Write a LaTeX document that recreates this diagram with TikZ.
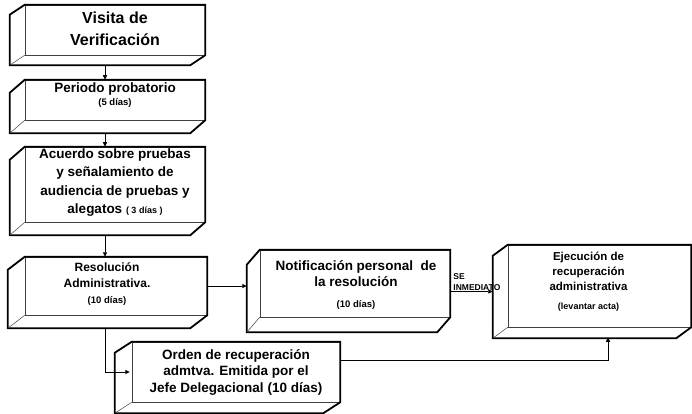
\documentclass[tikz,border=0pt]{standalone}
\usepackage{fontspec}
\setmainfont{Liberation Sans}
\usetikzlibrary{calc,arrows.meta}
\newcommand\mkcube[3]{%
  \draw[shell] (#1.north west) -- (#1.north east) -- (#1.south east)
    -- ($(#1.south east)+(-#2,#3)$) -- ($(#1.south west)+(-#2,#3)$)
    -- ($(#1.north west)+(-#2,#3)$) -- cycle;
  \draw[edge] (#1.south west) -- ($(#1.south west)+(-#2,#3)$);
  \coordinate (#1-ob) at ($(#1.south)+(0,#3)$);
  \coordinate (#1-ol) at ($(#1.west)+(-#2,0)$);
}
\begin{document}
\begin{tikzpicture}[x=1pt,y=-1pt,
  face/.style={draw=black!75, line width=0.5pt, inner sep=0pt},
  shell/.style={draw=black, line width=1.8pt, line join=miter},
  edge/.style={draw=black!75, line width=0.5pt},
  txt/.style={align=center, inner sep=0pt},
  arr/.style={draw=black, line width=0.9pt, -{Triangle[length=4.5pt,width=4pt]}},
  lbl/.style={font=\bfseries\fontsize{8.5}{9}\selectfont, inner sep=0pt, anchor=west}]
\useasboundingbox (0,0) rectangle (692,414);

% front faces
\node[face, minimum width=180pt, minimum height=50pt] (visita) at (115,30) {};
\node[face, minimum width=180pt, minimum height=40pt] (periodo) at (115,100) {};
\node[face, minimum width=180pt, minimum height=75pt] (acuerdo) at (115,184.5) {};
\node[face, minimum width=182pt, minimum height=58pt] (resol) at (116,286) {};
\node[face, minimum width=190pt, minimum height=67pt] (notif) at (355,283.5) {};
\node[face, minimum width=183pt, minimum height=82pt] (ejec) at (599.5,286) {};
\node[face, minimum width=208pt, minimum height=60pt] (orden) at (236,372) {};

% 3-D shells
\mkcube{visita}{15}{10}
\mkcube{periodo}{15}{13}
\mkcube{acuerdo}{15}{13}
\mkcube{resol}{17}{13}
\mkcube{notif}{13}{15}
\mkcube{ejec}{15}{11}
\mkcube{orden}{17}{11}

% texts
\node[txt, font=\bfseries\fontsize{16}{22}\selectfont] (visita-t) at ($(visita.center)+(0,-1)$)
  {Visita de\\Verificación};
\node[txt, font=\bfseries\fontsize{13.5}{13}\selectfont] (periodo-t) at ($(periodo.center)+(0,-5)$)
  {Periodo probatorio\\{\fontsize{9.5}{10}\selectfont (5 días)}};
\node[txt, font=\bfseries\fontsize{13.5}{18.5}\selectfont] (acuerdo-t) at ($(acuerdo.center)+(0,-2)$)
  {Acuerdo sobre pruebas\\y señalamiento de\\audiencia de pruebas y\\alegatos {\fontsize{9}{10}\selectfont( 3 días )}};
\node[txt, font=\bfseries\fontsize{12}{16}\selectfont] (resol-t) at ($(resol.center)+(-9,-2)$)
  {Resolución\\Administrativa.\\{\fontsize{9.5}{10}\selectfont(10 días)}};
\node[txt, font=\bfseries\fontsize{13.5}{15.5}\selectfont] (notif-t) at ($(notif.center)+(1,2)$)
  {Notificación personal~ de\\la resolución\\[6pt]{\fontsize{9.5}{10}\selectfont(10 días)}};
\node[txt, font=\bfseries\fontsize{11.5}{15}\selectfont] (ejec-t) at ($(ejec.center)+(-11,-4)$)
  {Ejecución de\\recuperación\\administrativa\\[4pt]{\fontsize{9}{10}\selectfont(levantar acta)}};
\node[txt, font=\bfseries\fontsize{13.5}{16.5}\selectfont] (orden-t) at (orden.center)
  {Orden de recuperación\\admtva. Emitida por el\\Jefe Delegacional (10 días)};

% connectors
\coordinate (spine) at (105,0);
\coordinate (ejec-foot) at ($(ejec.south)+(8.5,10)$);
\draw[arr] (spine |- visita-ob) -- (spine |- periodo.north);
\draw[arr] (spine |- periodo-ob) -- (spine |- acuerdo.north);
\draw[arr] (spine |- acuerdo-ob) -- (spine |- resol.north);
\draw[arr] (resol.east) -- (resol.east -| notif-ol);
\draw[arr] ([yshift=-8pt]notif.east) -- ([yshift=-8pt]notif.east -| ejec-ol);
\draw[arr] (spine |- resol-ob) |- ([xshift=-2pt]orden.west);
\draw[arr] ([yshift=12pt]orden.east) -| (ejec-foot);

% label
\node[lbl] (se) at ($(notif.east)+(3,-7)$) {SE};
\node[lbl] (inm) at ($(notif.east)+(3,4)$) {INMEDIATO};
\end{tikzpicture}
\end{document}
